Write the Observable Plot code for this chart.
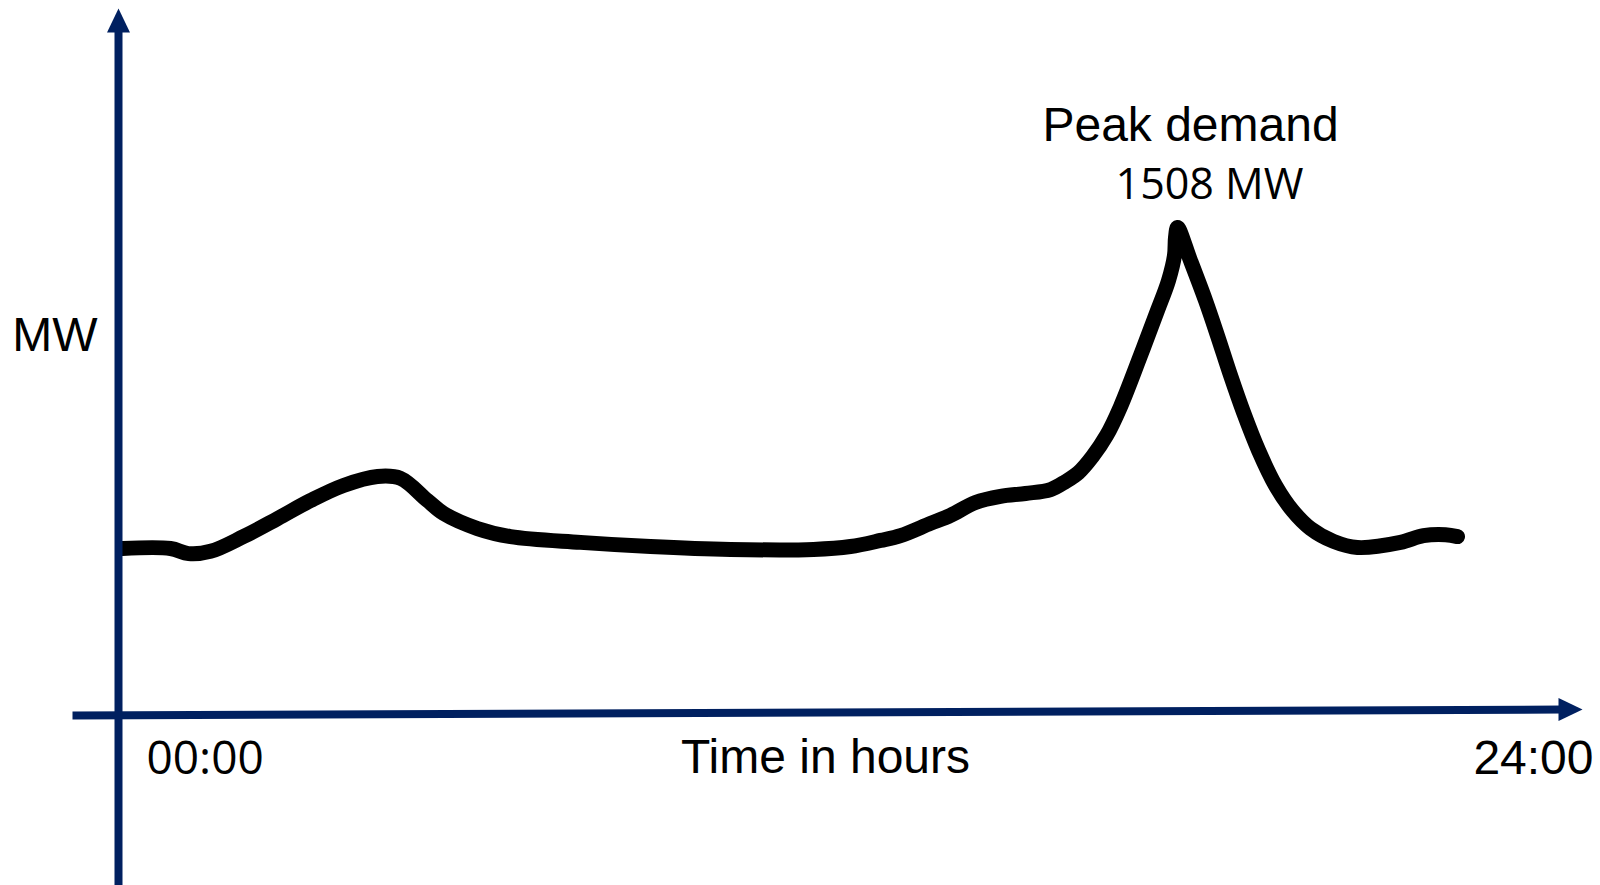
<!DOCTYPE html>
<html>
<head>
<meta charset="utf-8">
<script src="https://cdn.jsdelivr.net/npm/d3@7"></script>
<script src="https://cdn.jsdelivr.net/npm/@observablehq/plot@0.6"></script>
<style>
  html, body { margin: 0; padding: 0; background: #fff; }
  #chart svg { display: block; }
</style>
</head>
<body>
<div id="chart"></div>
<script>
// Load curve (time in hours, demand in MW)
const hours = [0.066, 0.852, 1.148, 1.508, 2.049, 2.607, 3.148, 3.689, 4.246, 4.623, 5.066, 5.328, 5.885, 6.426, 7.574, 8.721, 10.033, 11.393, 12.0, 12.492, 12.82, 13.311, 13.639, 14.049, 14.459, 14.869, 15.279, 15.525, 15.738, 15.967, 16.197, 16.426, 16.754, 17.033, 17.213, 17.311, 17.328, 17.361, 17.574, 17.82, 18.016, 18.23, 18.443, 18.689, 18.967, 19.246, 19.541, 19.918, 20.311, 21.016, 21.393, 21.754, 21.951];
const demandMW = [510, 510, 494, 501, 547, 603, 659, 706, 734, 728, 659, 619, 572, 547, 529, 516, 507, 507, 516, 535, 550, 588, 613, 653, 672, 681, 693, 718, 746, 796, 861, 951, 1110, 1250, 1343, 1421, 1477, 1508, 1405, 1281, 1172, 1048, 933, 815, 706, 628, 572, 532, 513, 529, 550, 553, 547];

// Tick labels on the time axis
const tickHours = [0, 24];
const tickLabels = ["00:00", "24:00"];

// Annotation
const peakLabel = "Peak demand";
const peakValueLabel = "1508 MW";
const xTitle = "Time in hours";
const yTitle = "MW";

const curve = hours.map((h, i) => ({h, mw: demandMW[i]}));
const peak = curve.reduce((a, b) => (b.mw > a.mw ? b : a));

const axisColor = "#002060";
const arialStack = "'Liberation Sans', Arial, sans-serif";
const sansStack = "'Open Sans', 'Noto Sans', sans-serif";

const chart = Plot.plot({
  width: 1600,
  height: 885,
  margin: 0,
  x: {domain: [0, 24], range: [118, 1582], axis: null},
  y: {domain: [0, 1508], range: [712, 227], axis: null},
  marks: [
    // demand curve
    Plot.line(curve, {
      x: "h", y: "mw", curve: "catmull-rom",
      stroke: "#000", strokeWidth: 15,
      strokeLinecap: "round", strokeLinejoin: "round"
    }),
    // vertical axis
    Plot.ruleX([0], {y1: -600, y2: 2125, stroke: axisColor, strokeWidth: 8}),
    Plot.vector([{x: 0, y: 2114}], {
      x: "x", y: "y", shape: "spike", anchor: "start",
      length: 24, r: 11.5, rotate: 0,
      fill: axisColor, stroke: "none"
    }),
    // horizontal axis (slightly tilted, as drawn)
    Plot.link([{x1: -0.754, y1: -9.3, x2: 23.67, y2: 9.3}], {
      x1: "x1", y1: "y1", x2: "x2", y2: "y2",
      stroke: axisColor, strokeWidth: 8
    }),
    Plot.vector([{x: 23.607, y: 9.3}], {
      x: "x", y: "y", shape: "spike", anchor: "start",
      length: 24, r: 11.5, rotate: 90,
      fill: axisColor, stroke: "none"
    }),
    // tick labels
    Plot.text([tickHours[0]], {
      x: d => d, y: 0, text: () => tickLabels[0],
      textAnchor: "start", lineAnchor: "bottom", dx: 28, dy: 61,
      fontSize: 46, fontFamily: sansStack, fill: "#000"
    }),
    Plot.text([tickHours[1]], {
      x: d => d, y: 0, text: () => tickLabels[1],
      textAnchor: "end", lineAnchor: "bottom", dx: 11, dy: 61,
      fontSize: 48, fontFamily: arialStack, fill: "#000"
    }),
    // axis titles
    Plot.text([xTitle], {
      x: 12, y: 0, text: d => d,
      textAnchor: "middle", lineAnchor: "bottom", dx: -25, dy: 60,
      fontSize: 48, fontFamily: arialStack, fill: "#000"
    }),
    Plot.text([yTitle], {
      x: 0, y: 1125, text: d => d,
      textAnchor: "end", lineAnchor: "bottom", dx: -21, dy: 0,
      fontSize: 48, fontFamily: arialStack, fill: "#000"
    }),
    // peak annotation
    Plot.text([peak], {
      x: "h", y: "mw", text: () => peakLabel,
      textAnchor: "middle", lineAnchor: "bottom", dx: 13, dy: -87,
      fontSize: 48, fontFamily: arialStack, fill: "#000"
    }),
    Plot.text([peak], {
      x: "h", y: "mw", text: () => peakValueLabel,
      textAnchor: "middle", lineAnchor: "bottom", dx: 32, dy: -29,
      fontSize: 43, fontFamily: sansStack, fill: "#000"
    })
  ]
});

document.getElementById("chart").appendChild(chart);
</script>
</body>
</html>
